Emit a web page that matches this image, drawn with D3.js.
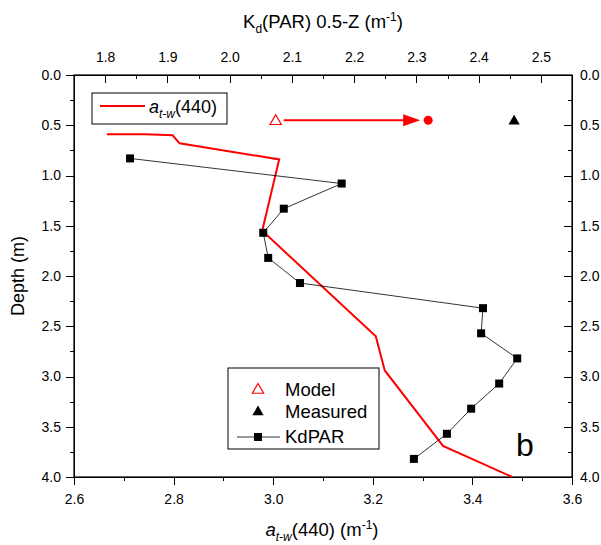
<!doctype html>
<html>
<head>
  <script src="https://cdnjs.cloudflare.com/ajax/libs/d3/7.8.5/d3.min.js"></script>
  <style>
    body { margin: 0; background: #fff; }
    svg text { font-family: "Liberation Sans", Arial, sans-serif; fill: #000; }
    .axis path, .axis line { stroke: #000; stroke-width: 1; shape-rendering: crispEdges; }
    .axis text { font-size: 14px; }
  </style>
</head>
<body>
  <svg id="chart" width="601" height="545"></svg>
  <script>
    // a_t-w(440) profile, bottom axis
    var atwValue = [2.666, 2.743, 2.798, 2.812, 3.012, 2.978, 3.206, 3.224, 3.341, 3.480];
    var atwDepth = [0.59, 0.59, 0.60, 0.68, 0.84, 1.55, 2.60, 2.94, 3.69, 4.00];

    // KdPAR 0.5-Z profile, top axis
    var kdValue = [1.840, 2.180, 2.087, 2.054, 2.062, 2.113, 2.407, 2.404, 2.462, 2.433, 2.388, 2.349, 2.296];
    var kdDepth = [0.83, 1.08, 1.33, 1.57, 1.82, 2.07, 2.32, 2.57, 2.82, 3.07, 3.32, 3.57, 3.82];

    // model / measured Kd at 0.45 m
    var markDepth = 0.45;
    var modelKd = 2.074;
    var correctedKd = 2.319;
    var measuredKd = 2.457;

    var depthTicks = [0, 0.5, 1, 1.5, 2, 2.5, 3, 3.5, 4];
    var bottomTicks = [2.6, 2.8, 3.0, 3.2, 3.4, 3.6];
    var topTicks = [1.8, 1.9, 2.0, 2.1, 2.2, 2.3, 2.4, 2.5];

    var svg = d3.select("#chart");
    var L = 74, R = 572, T = 75, B = 477;

    var y = d3.scaleLinear().domain([0, 4]).range([T, B]);
    var xB = d3.scaleLinear().domain([2.6, 3.6]).range([L, R]);
    var xT = d3.scaleLinear().domain([1.75, 2.55]).range([L, R]);
    var f1 = d3.format(".1f");

    // minor ticks
    svg.append("g").attr("class", "axis").attr("transform", "translate(" + L + ",0)")
      .call(d3.axisLeft(y).tickValues(d3.range(0.25, 4, 0.5)).tickSize(4).tickSizeOuter(0).tickFormat(""));
    svg.append("g").attr("class", "axis").attr("transform", "translate(" + R + ",0)")
      .call(d3.axisRight(y).tickValues(d3.range(0.25, 4, 0.5)).tickSize(-4).tickSizeOuter(0).tickFormat(""));
    svg.append("g").attr("class", "axis").attr("transform", "translate(0," + B + ")")
      .call(d3.axisBottom(xB).tickValues(d3.range(2.7, 3.6, 0.2)).tickSize(4).tickSizeOuter(0).tickFormat(""));
    svg.append("g").attr("class", "axis").attr("transform", "translate(0," + T + ")")
      .call(d3.axisTop(xT).tickValues(d3.range(1.75, 2.56, 0.1)).tickSize(-4).tickSizeOuter(0).tickFormat(""));

    // major ticks + labels
    svg.append("g").attr("class", "axis").attr("transform", "translate(" + L + ",0)")
      .call(d3.axisLeft(y).tickValues(depthTicks).tickSize(8).tickSizeOuter(0).tickPadding(5).tickFormat(f1));
    svg.append("g").attr("class", "axis").attr("transform", "translate(" + R + ",0)")
      .call(d3.axisRight(y).tickValues(depthTicks).tickSize(-8).tickSizeOuter(0).tickPadding(8).tickFormat(f1));
    svg.append("g").attr("class", "axis").attr("transform", "translate(0," + B + ")")
      .call(d3.axisBottom(xB).tickValues(bottomTicks).tickSize(8).tickSizeOuter(0).tickPadding(9).tickFormat(f1));
    svg.append("g").attr("class", "axis").attr("transform", "translate(0," + T + ")")
      .call(d3.axisTop(xT).tickValues(topTicks).tickSize(-8).tickSizeOuter(0).tickPadding(13).tickFormat(f1));

    svg.append("rect").attr("x", L).attr("y", T).attr("width", R - L).attr("height", B - T)
      .attr("fill", "none").attr("stroke", "#000").attr("stroke-width", 1.2);

    // red a_t-w line
    var atw = atwValue.map(function(v, i) { return [v, atwDepth[i]]; });
    svg.append("path").datum(atw)
      .attr("fill", "none").attr("stroke", "#ff0000").attr("stroke-width", 2)
      .attr("d", d3.line().x(function(d) { return xB(d[0]); }).y(function(d) { return y(d[1]); }));

    // KdPAR line + squares
    var kd = kdValue.map(function(v, i) { return [v, kdDepth[i]]; });
    svg.append("path").datum(kd)
      .attr("fill", "none").attr("stroke", "#000").attr("stroke-width", 0.8)
      .attr("d", d3.line().x(function(d) { return xT(d[0]); }).y(function(d) { return y(d[1]); }));
    svg.selectAll("rect.kd").data(kd).enter().append("rect").attr("class", "kd")
      .attr("x", function(d) { return xT(d[0]) - 4; })
      .attr("y", function(d) { return y(d[1]) - 4; })
      .attr("width", 8).attr("height", 8).attr("fill", "#000");

    // model -> corrected arrow
    var tri = d3.symbol().type(d3.symbolTriangle).size(55);
    var ym = y(markDepth);
    svg.append("line").attr("x1", xT(modelKd) + 8).attr("x2", xT(correctedKd) - 22)
      .attr("y1", ym).attr("y2", ym).attr("stroke", "#ff0000").attr("stroke-width", 2);
    svg.append("path")
      .attr("d", "M" + (xT(correctedKd) - 25) + "," + (ym - 6) + "L" + (xT(correctedKd) - 8) + "," + ym +
        "L" + (xT(correctedKd) - 25) + "," + (ym + 6) + "Z")
      .attr("fill", "#ff0000");
    svg.append("circle").attr("cx", xT(correctedKd)).attr("cy", ym).attr("r", 4.5).attr("fill", "#ff0000");
    svg.append("path").attr("d", tri).attr("transform", "translate(" + xT(modelKd) + "," + (ym + 1) + ")")
      .attr("fill", "#fff").attr("stroke", "#ff0000").attr("stroke-width", 1.2);
    svg.append("path").attr("d", tri).attr("transform", "translate(" + xT(measuredKd) + "," + (ym + 1) + ")")
      .attr("fill", "#000");

    // legend 1
    svg.append("rect").attr("x", 92).attr("y", 93).attr("width", 135).attr("height", 31)
      .attr("fill", "#fff").attr("stroke", "#000").attr("stroke-width", 1);
    svg.append("line").attr("x1", 100).attr("x2", 145).attr("y1", 106).attr("y2", 106)
      .attr("stroke", "#ff0000").attr("stroke-width", 2);
    var t1 = svg.append("text").attr("x", 149).attr("y", 113).style("font-size", "18px");
    t1.append("tspan").style("font-style", "italic").text("a");
    t1.append("tspan").style("font-style", "italic").style("font-size", "12px").attr("dy", 5).text("t-w");
    t1.append("tspan").attr("dy", -5).text("(440)");

    // legend 2
    svg.append("rect").attr("x", 228).attr("y", 368).attr("width", 151).attr("height", 81)
      .attr("fill", "#fff").attr("stroke", "#000").attr("stroke-width", 1);
    var lx = 258;
    svg.append("path").attr("d", tri).attr("transform", "translate(" + lx + ",390)")
      .attr("fill", "#fff").attr("stroke", "#ff0000").attr("stroke-width", 1.2);
    svg.append("path").attr("d", tri).attr("transform", "translate(" + lx + ",412)").attr("fill", "#000");
    svg.append("line").attr("x1", 237).attr("x2", 280).attr("y1", 437).attr("y2", 437)
      .attr("stroke", "#000").attr("stroke-width", 0.8);
    svg.append("rect").attr("x", lx - 4).attr("y", 433).attr("width", 8).attr("height", 8).attr("fill", "#000");
    [["Model", 396], ["Measured", 418], ["KdPAR", 443]].forEach(function(e) {
      svg.append("text").attr("x", 285).attr("y", e[1]).style("font-size", "18.5px").text(e[0]);
    });

    svg.append("text").attr("x", 516).attr("y", 456).style("font-size", "32px").text("b");

    // axis titles
    var tt = svg.append("text").attr("x", 323).attr("y", 28).attr("text-anchor", "middle").style("font-size", "18.5px");
    tt.append("tspan").text("K");
    tt.append("tspan").attr("dy", 5).style("font-size", "12px").text("d");
    tt.append("tspan").attr("dy", -5).text("(PAR) 0.5-Z (m");
    tt.append("tspan").attr("dy", -7).style("font-size", "12px").text("-1");
    tt.append("tspan").attr("dy", 7).text(")");

    var bt = svg.append("text").attr("x", 322).attr("y", 536).attr("text-anchor", "middle").style("font-size", "18.5px");
    bt.append("tspan").style("font-style", "italic").text("a");
    bt.append("tspan").attr("dy", 5).style("font-style", "italic").style("font-size", "12px").text("t-w");
    bt.append("tspan").attr("dy", -5).text("(440) (m");
    bt.append("tspan").attr("dy", -7).style("font-size", "12px").text("-1");
    bt.append("tspan").attr("dy", 7).text(")");

    svg.append("text").attr("transform", "translate(24," + ((T + B) / 2) + ") rotate(-90)")
      .attr("text-anchor", "middle").style("font-size", "18px").text("Depth (m)");
  </script>
</body>
</html>
